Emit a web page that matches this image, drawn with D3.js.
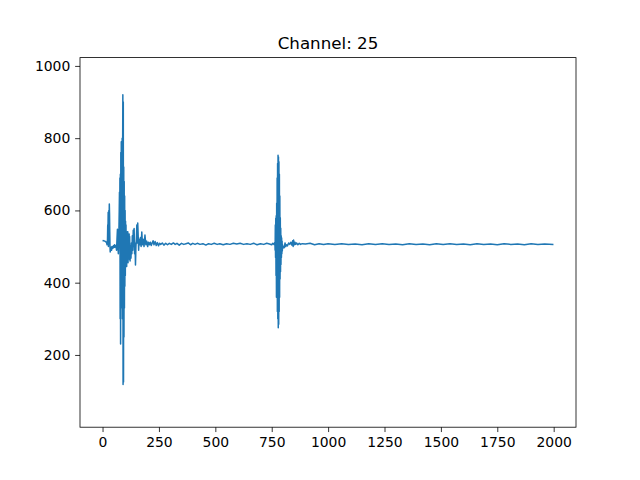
<!DOCTYPE html>
<html>
<head>
<meta charset="utf-8">
<script src="https://cdn.jsdelivr.net/npm/d3@7"></script>
<style>
  body { margin: 0; background: #fff; }
  svg text { font-family: "DejaVu Sans", sans-serif; fill: #000; }
</style>
</head>
<body>
<svg id="chart" width="640" height="480"></svg>
<script>
// chart text and ticks
var title = "Channel: 25";
var xTicks = [0, 250, 500, 750, 1000, 1250, 1500, 1750, 2000];
var yTicks = [200, 400, 600, 800, 1000];
var sampleCount = 2000;
var yLimits = [0, 1023];

// samples: start, first burst
var burst1Idx = [0, 5, 10, 15, 18, 20, 22, 23, 24, 25, 26, 27, 28, 29, 30, 31, 32, 33, 34, 36, 38, 40, 42, 45, 48, 50, 53, 55, 58, 60, 62, 64, 66, 67, 68, 70, 72, 74, 75,
  76, 77, 78, 79, 80, 81, 82, 83, 84, 85, 86, 87, 88, 89, 90, 91, 92, 93, 94, 95, 96, 97, 98, 99, 100, 101, 102, 103, 104, 105, 106, 107, 108, 109, 110, 111, 112, 113, 114, 115, 116, 117, 118, 119, 120,
  122, 124, 126, 128, 130, 132, 134, 136, 138, 140, 142, 144, 146, 148, 150, 152, 154, 156, 158, 160, 162, 165, 168, 171, 174, 177, 180, 184, 188, 192, 196, 200, 204, 208, 212, 216, 220, 224, 228, 233, 238, 243, 248, 253];
var burst1Val = [517, 516, 515, 513, 510, 505, 520, 560, 545, 595, 500, 540, 600, 560, 618, 590, 540, 500, 485, 492, 498, 490, 500, 495, 502, 497, 505, 498, 503, 500, 490, 520, 548, 530, 500, 480, 520, 600, 650,
  520, 690, 300, 700, 230, 760, 330, 790, 400, 780, 350, 800, 300, 760, 920, 118, 900, 125, 720, 250, 680, 330, 640, 390, 600, 420, 570, 445, 560, 450, 540, 445, 530, 470, 541, 460, 541, 455, 525, 470, 530, 480, 535, 465, 528,
  460, 500, 468, 510, 480, 530, 490, 545, 500, 550, 480, 510, 449, 500, 520, 560, 510, 565, 530, 490, 520, 505, 525, 500, 540, 505, 520, 500, 532, 505, 515, 500, 512, 505, 512, 503, 510, 516, 505, 514, 503, 511, 502, 509];

// quiet stretch before the second burst
var quiet1Idx = [258, 265, 272, 280, 288, 296, 305, 314, 322, 330, 340, 350, 360, 370, 380, 390, 400, 410, 420, 432, 445, 458, 470, 482, 495, 508, 520, 535, 550, 565, 580, 595, 610, 625, 640, 655, 670, 685, 700, 715, 728, 740, 750, 755, 760];
var quiet1Val = [506, 510, 504, 509, 505, 509, 506, 510, 506, 509, 504, 509, 506, 508, 510, 505, 509, 506, 509, 506, 508, 504, 508, 506, 509, 506, 508, 505, 508, 506, 509, 507, 509, 506, 508, 506, 509, 505, 508, 506, 509, 507, 505, 509, 506];

// second burst
var burst2Idx = [764, 765, 766, 767, 768, 769, 770, 771, 772, 773, 774, 775, 776, 777, 778, 779, 780, 781, 782, 783, 784, 785, 786, 787, 788, 789, 790, 791, 792, 793, 794, 795, 796, 797, 798,
  800, 803, 806, 809, 812, 816, 820, 825, 830, 835, 840, 843, 845, 847, 850, 853, 856, 860, 866, 872, 878, 885];
var burst2Val = [512, 490, 560, 470, 578, 420, 585, 360, 620, 380, 690, 320, 730, 300, 753, 275, 748, 285, 735, 320, 700, 360, 640, 410, 580, 430, 551, 450, 530, 470, 524, 480, 515, 488, 505,
  495, 500, 497, 510, 500, 505, 502, 510, 506, 512, 504, 516, 500, 518, 505, 512, 506, 510, 505, 509, 506, 508];

// long flat tail
var tailIdx = [900, 920, 940, 960, 980, 1000, 1030, 1060, 1090, 1120, 1150, 1180, 1210, 1240, 1270, 1300, 1330, 1360, 1390, 1420, 1450, 1480, 1510, 1540, 1570, 1600, 1630, 1660, 1690, 1720, 1750, 1780, 1810, 1840, 1870, 1900, 1930, 1960, 1999];
var tailVal = [507, 509, 505, 508, 506, 508, 506, 508, 506, 507, 505, 508, 506, 508, 506, 507, 505, 508, 506, 507, 505, 508, 506, 508, 506, 507, 505, 508, 506, 507, 505, 508, 506, 507, 505, 508, 506, 507, 506];

var svg = d3.select("svg#chart");

// matplotlib default axes box
var axLeft = 80, axRight = 576, axTop = 57.6, axBottom = 427.2;

var idx = burst1Idx.concat(quiet1Idx, burst2Idx, tailIdx);
var val = burst1Val.concat(quiet1Val, burst2Val, tailVal);
var data = idx.map(function(d, i) { return { x: d, y: val[i] }; });

var pad = (sampleCount - 1) * 0.05;
var x = d3.scaleLinear().domain([-pad, sampleCount - 1 + pad]).range([axLeft, axRight]);
var y = d3.scaleLinear().domain(yLimits).range([axBottom, axTop]);

var line = d3.line()
    .x(function(d) { return x(d.x); })
    .y(function(d) { return y(d.y); });

svg.append("path")
    .datum(data)
    .attr("d", line)
    .attr("fill", "none")
    .attr("stroke", "#1f77b4")
    .attr("stroke-width", 1.5)
    .attr("stroke-linejoin", "round");

// axes
var xAxis = d3.axisBottom(x).tickValues(xTicks).tickSize(4.86).tickPadding(4.86).tickFormat(d3.format("d"));
var yAxis = d3.axisLeft(y).tickValues(yTicks).tickSize(4.86).tickPadding(4.86).tickFormat(d3.format("d"));

var gx = svg.append("g").attr("transform", "translate(0," + axBottom + ")").call(xAxis);
var gy = svg.append("g").attr("transform", "translate(" + axLeft + ",0)").call(yAxis);

[gx, gy].forEach(function(g) {
  g.select(".domain").remove();
  g.selectAll(".tick line").attr("stroke", "#000").attr("stroke-width", 0.8);
  g.selectAll(".tick text").style("font-size", "13.9px").style("font-family", "DejaVu Sans");
});

// frame
svg.append("rect")
    .attr("x", axLeft).attr("y", axTop)
    .attr("width", axRight - axLeft).attr("height", axBottom - axTop)
    .attr("fill", "none").attr("stroke", "#000").attr("stroke-width", 0.8);

svg.append("text")
    .attr("x", (axLeft + axRight) / 2)
    .attr("y", axTop - 8.3)
    .attr("text-anchor", "middle")
    .style("font-size", "16.7px")
    .text(title);
</script>
</body>
</html>
